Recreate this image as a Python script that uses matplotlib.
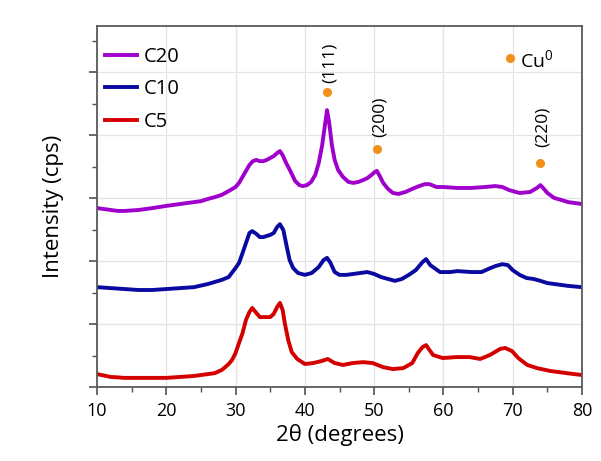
# XRD patterns of C5 / C10 / C20 with Cu0 reflections
import numpy as np
import matplotlib.pyplot as plt
from matplotlib.ticker import MultipleLocator

# 2theta (deg) and intensity (cps, offset stacked)
tt_c20 = [10, 11, 12, 13, 14, 16, 18, 20, 22, 24, 25, 26, 27, 28, 29, 30, 30.5, 31, 31.5, 32,
          32.5, 33, 33.5, 34, 34.5, 35, 35.5, 36, 36.4, 36.8, 37.3, 37.9, 38.6, 39.2, 39.7,
          40.3, 40.9, 41.5, 42, 42.5, 42.9, 43.2, 43.5, 43.9, 44.3, 44.8, 45.5, 46.3, 47, 47.7,
          48.4, 49, 49.6, 50.1, 50.4, 50.8, 51.3, 52, 52.7, 53.5, 54.5, 55.5, 56.5, 57.3, 58,
          59, 60, 62, 64, 66, 67.5, 68.5, 69.5, 71, 72.5, 73.5, 74, 74.5, 75, 76, 77, 78, 79, 80]
int_c20 = [2840, 2825, 2810, 2795, 2795, 2810, 2840, 2875, 2905, 2935, 2950, 2985, 3015, 3050,
           3110, 3175, 3240, 3335, 3430, 3525, 3585, 3605, 3585, 3585, 3605, 3635, 3665, 3715,
           3745, 3680, 3555, 3430, 3270, 3205, 3190, 3205, 3255, 3365, 3555, 3840, 4160, 4395,
           4205, 3840, 3605, 3445, 3335, 3255, 3240, 3255, 3285, 3315, 3365, 3415, 3430, 3350,
           3240, 3145, 3080, 3065, 3095, 3145, 3190, 3220, 3220, 3175, 3175, 3160, 3160, 3175,
           3190, 3175, 3125, 3080, 3095, 3160, 3205, 3145, 3080, 3000, 2970, 2935, 2920, 2905]

tt_c10 = [10, 12, 14, 16, 18, 20, 22, 24, 26, 28, 29, 30, 30.5, 31, 31.5, 32, 32.4, 33, 33.5,
          34, 35, 35.5, 36, 36.4, 36.9, 37.4, 37.8, 38.3, 39, 40, 41, 42, 42.7, 43.2, 43.7,
          44.3, 45, 46, 47, 48, 49, 50, 51, 52, 53, 54, 55, 56, 57, 57.5, 58.1, 59.5, 61, 62,
          64, 65.5, 66.5, 67.5, 68.5, 69.3, 70, 71, 72, 73, 74, 75, 76, 78, 80]
int_c10 = [1585, 1570, 1555, 1540, 1540, 1555, 1570, 1585, 1635, 1700, 1745, 1890, 1970, 2125,
           2285, 2445, 2475, 2430, 2380, 2380, 2415, 2445, 2540, 2585, 2490, 2220, 2015, 1890,
           1810, 1780, 1810, 1905, 2015, 2050, 1970, 1825, 1780, 1780, 1795, 1810, 1825, 1795,
           1745, 1715, 1685, 1715, 1780, 1855, 1985, 2030, 1935, 1825, 1825, 1840, 1825, 1825,
           1875, 1920, 1950, 1935, 1855, 1780, 1730, 1715, 1685, 1650, 1635, 1605, 1585]

tt_c5 = [10, 12, 14, 16, 18, 20, 22, 24, 25, 26, 27, 28, 28.5, 29, 29.5, 30, 30.5, 31, 31.5,
         32, 32.4, 33, 33.5, 34, 35, 35.5, 36, 36.4, 36.8, 37.1, 37.6, 38.1, 38.9, 40, 41.2,
         42.5, 43.3, 44.3, 45.5, 46.9, 48.4, 49.8, 51.3, 52.7, 54.2, 55.5, 56.3, 57, 57.5, 58,
         58.5, 59.9, 61.9, 63.8, 65.3, 66.7, 68.2, 68.9, 69.9, 70.8, 72.1, 73.5, 75.4, 77.8, 80]
int_c5 = [205, 160, 145, 145, 145, 145, 160, 175, 190, 205, 220, 270, 315, 365, 430, 540, 700,
          855, 1065, 1190, 1255, 1175, 1110, 1110, 1110, 1160, 1270, 1335, 1220, 1015, 745, 555,
          445, 365, 380, 415, 445, 380, 350, 380, 395, 380, 315, 285, 300, 380, 540, 635, 665,
          585, 508, 460, 475, 475, 445, 508, 605, 620, 570, 460, 350, 300, 255, 220, 190]

# Cu0 reflections: position, marker height, label
cu_pos = [43.2, 50.4, 73.9]
cu_int = [4685, 3780, 3555]
cu_hkl = ['(111)', '(200)', '(220)']

plt.rcParams['font.family'] = ['Open Sans', 'DejaVu Sans']
orange = '#f39019'

fig = plt.figure(figsize=(6.01, 4.61), dpi=100)
ax = fig.add_axes([0.1614, 0.1605, 0.807, 0.783])

ax.plot(tt_c20, int_c20, color='#a000cc', lw=2.8, label='C20')
ax.plot(tt_c10, int_c10, color='#0a0aa0', lw=2.8, label='C10')
ax.plot(tt_c5, int_c5, color='#d40000', lw=2.8, label='C5')

ax.plot(cu_pos, cu_int, 'o', color=orange, ms=5.5, ls='none')
ax.text(cu_pos[0] + 0.4, 4830, cu_hkl[0], rotation=90, ha='center', va='bottom', fontsize=12.5)
ax.text(cu_pos[1] + 0.4, 3970, cu_hkl[1], rotation=90, ha='center', va='bottom', fontsize=12.5)
ax.text(cu_pos[2] + 0.5, 3810, cu_hkl[2], rotation=90, ha='center', va='bottom', fontsize=12.5)

# Cu0 key
ax.plot([69.6], [5220], 'o', color=orange, ms=5.5)
ax.text(71.0, 5180, r'Cu$^{\mathregular{0}}$', ha='left', va='center', fontsize=14)

ax.set_xlim(10, 80)
ax.set_ylim(0, 5730)
ax.xaxis.set_major_locator(MultipleLocator(10))
ax.xaxis.set_minor_locator(MultipleLocator(5))
ax.yaxis.set_major_locator(MultipleLocator(1000))
ax.yaxis.set_minor_locator(MultipleLocator(500))
ax.set_yticklabels([])
ax.tick_params(axis='both', which='major', direction='out', length=6, width=1.2,
               color='#505050', labelsize=13, pad=5)
ax.tick_params(axis='both', which='minor', direction='out', length=3.5, width=1.0, color='#505050')
ax.tick_params(axis='y', which='both', labelleft=False)
ax.grid(True, which='major', color='#e4e4e4', lw=0.9)
ax.set_axisbelow(True)
for s in ax.spines.values():
    s.set_color('#5a5a5a')
    s.set_linewidth(1.3)

ax.set_xlabel('2θ (degrees)', fontsize=16, labelpad=3)
ax.set_ylabel('Intensity (cps)', fontsize=16, labelpad=18)

ax.legend(loc='upper left', bbox_to_anchor=(0.0, 0.965), frameon=False, fontsize=14.5,
          handlelength=1.6, handletextpad=0.3, labelspacing=0.62, borderaxespad=0.0)

plt.savefig('out.png', dpi=100)
